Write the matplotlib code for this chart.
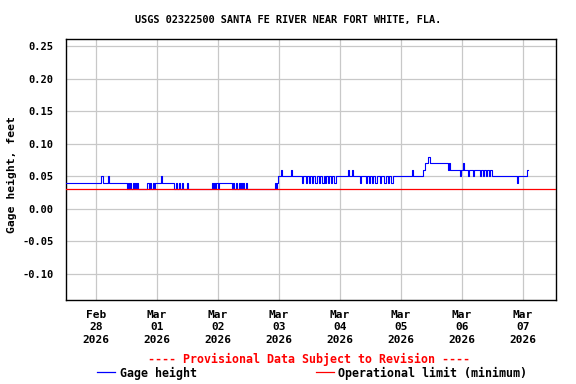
import matplotlib
matplotlib.use("Agg")
import matplotlib.pyplot as plt
from matplotlib.lines import Line2D

# ---- data (hours since 2026-02-28 00:00, step changes of gage height, feet) ----
change_hours = [
    -12.0, 1.97, 2.75, 4.72, 5.11, 12.2, 12.6, 13.0, 13.4, 13.8, 14.6, 15.0, 15.3, 15.7, 16.1, 16.5,
    20.1, 20.9, 21.2, 21.6, 22.4, 22.8, 23.2, 25.6, 26.0, 30.7, 31.5, 31.9, 32.7, 33.0, 33.8, 34.2,
    35.8, 36.2, 45.6, 46.0, 46.4, 46.8, 47.2, 48.0, 48.4, 53.5, 53.9, 54.3, 55.1, 55.5, 56.3, 56.6,
    57.0, 57.4, 57.8, 58.2, 59.0, 59.4, 70.4, 70.8, 71.2, 71.6, 72.8, 73.2, 76.7, 77.1, 81.0, 81.4,
    82.6, 83.0, 83.8, 84.2, 85.0, 85.4, 86.1, 86.9, 87.7, 88.1, 88.9, 89.7, 90.1, 90.5, 91.3, 91.7,
    92.5, 92.8, 93.6, 94.4, 99.1, 99.5, 100.7, 101.1, 103.9, 104.3, 106.2, 106.6, 107.4, 107.8,
    108.6, 109.0, 109.8, 110.6, 111.7, 112.1, 113.3, 114.1, 114.9, 115.3, 116.1, 116.8, 124.3,
    124.7, 128.6, 129.4, 130.6, 131.4, 138.5, 138.9, 139.3, 143.2, 143.6, 144.4, 144.8, 146.3,
    146.7, 148.3, 148.7, 151.1, 151.5, 152.3, 152.7, 153.4, 153.8, 154.6, 155.0, 155.8, 165.6,
    166.0, 169.6, 169.9,
]
change_values = [
    0.04, 0.05, 0.04, 0.05, 0.04, 0.03, 0.04, 0.03, 0.04, 0.03, 0.04, 0.03, 0.04, 0.03, 0.04, 0.03,
    0.04, 0.03, 0.04, 0.03, 0.04, 0.03, 0.04, 0.05, 0.04, 0.03, 0.04, 0.03, 0.04, 0.03, 0.04, 0.03,
    0.04, 0.03, 0.04, 0.03, 0.04, 0.03, 0.04, 0.03, 0.04, 0.03, 0.04, 0.03, 0.04, 0.03, 0.04, 0.03,
    0.04, 0.03, 0.04, 0.03, 0.04, 0.03, 0.04, 0.03, 0.04, 0.05, 0.06, 0.05, 0.06, 0.05, 0.04, 0.05,
    0.04, 0.05, 0.04, 0.05, 0.04, 0.05, 0.04, 0.05, 0.04, 0.05, 0.04, 0.05, 0.04, 0.05, 0.04, 0.05,
    0.04, 0.05, 0.04, 0.05, 0.06, 0.05, 0.06, 0.05, 0.04, 0.05, 0.04, 0.05, 0.04, 0.05,
    0.04, 0.05, 0.04, 0.05, 0.04, 0.05, 0.04, 0.05, 0.04, 0.05, 0.04, 0.05, 0.06,
    0.05, 0.06, 0.07, 0.08, 0.07, 0.06, 0.07, 0.06, 0.05, 0.06, 0.07, 0.06, 0.05,
    0.06, 0.05, 0.06, 0.05, 0.06, 0.05, 0.06, 0.05, 0.06, 0.05, 0.06, 0.05, 0.04,
    0.05, 0.06, 0.06,
]
operational_limit = 0.03

tick_hours = [0, 24, 48, 72, 96, 120, 144, 168]
tick_labels = ["Feb\n28\n2026", "Mar\n01\n2026", "Mar\n02\n2026", "Mar\n03\n2026",
               "Mar\n04\n2026", "Mar\n05\n2026", "Mar\n06\n2026", "Mar\n07\n2026"]
y_ticks = [-0.10, -0.05, 0.00, 0.05, 0.10, 0.15, 0.20, 0.25]
y_tick_labels = ["-0.10", "-0.05", "0.00", "0.05", "0.10", "0.15", "0.20", "0.25"]

title = "USGS 02322500 SANTA FE RIVER NEAR FORT WHITE, FLA."

MONO = "DejaVu Sans Mono"

fig = plt.figure(figsize=(5.76, 3.84), dpi=100)
ax = fig.add_axes([66 / 576, 1 - 300 / 384, 490 / 576, 261 / 384])

ax.plot(change_hours, change_values, drawstyle="steps-post", color="#0000ff", lw=0.8, zorder=3)
ax.axhline(operational_limit, color="#ff0000", lw=0.9, zorder=4)

ax.set_xlim(-11.8, 181.0)
ax.set_ylim(-0.14, 0.2608)
ax.set_xticks(tick_hours)
ax.set_xticklabels(tick_labels, family=MONO, weight="bold", size=8, linespacing=1.3)
ax.set_yticks(y_ticks)
ax.set_yticklabels(y_tick_labels, family=MONO, weight="bold", size=7.5)
ax.tick_params(axis="y", length=0, pad=9)
ax.tick_params(axis="x", length=0, pad=7)
ax.grid(True, color="#c8c8c8", lw=0.9, zorder=0)
ax.set_axisbelow(True)
for s in ax.spines.values():
    s.set_color("black")
    s.set_linewidth(1.0)

fig.text(12 / 576, 1 - 175 / 384, "Gage height, feet", rotation=90, ha="center", va="center",
         family=MONO, weight="bold", size=8.2)
fig.text(288.5 / 576, 1 - 20 / 384, title, ha="center", va="center",
         family=MONO, weight="bold", size=7.4)
fig.text(308.5 / 576, 1 - 359 / 384, "---- Provisional Data Subject to Revision ----",
         ha="center", va="center", color="#ff0000", family=MONO, weight="bold", size=8.4)

handles = [Line2D([], [], color="#0000ff", lw=0.9), Line2D([], [], color="#ff0000", lw=0.9)]
fig.legend(handles, ["Gage height", "Operational limit (minimum)"], ncol=2,
           loc="center", bbox_to_anchor=(312 / 576, 1 - 373 / 384), frameon=False,
           prop=dict(family=MONO, weight="bold", size=8.4),
           handlelength=1.55, handletextpad=0.42, columnspacing=10.2, borderpad=0, borderaxespad=0)

fig.savefig("out.png", dpi=100)
